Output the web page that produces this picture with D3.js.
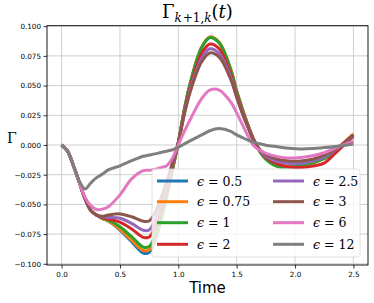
<!DOCTYPE html>
<html><head><meta charset="utf-8">
<script src="https://cdn.jsdelivr.net/npm/d3@7"></script>
<style>body{margin:0;background:#fff}svg{display:block}</style>
</head><body>
<script>
const T = [0,0.05,0.1,0.15,0.2,0.25,0.3,0.35,0.4,0.5,0.6,0.7,0.75,0.8,0.85,0.9,0.95,1.0,1.05,1.1,1.2,1.27,1.35,1.45,1.5,1.55,1.6,1.65,1.7,1.75,1.85,1.95,2.05,2.15,2.25,2.35,2.45,2.5];
const labels = ["0.5","0.75","1","2","2.5","3","6","12"];
const colors = ["#1f77b4","#ff7f0e","#2ca02c","#d62728","#9467bd","#8c564b","#e377c2","#7f7f7f"];
const s05  = [0,-0.005,-0.017,-0.031,-0.045,-0.055,-0.059,-0.062,-0.064,-0.0716,-0.0814,-0.0910,-0.0905,-0.081,-0.064,-0.044,-0.021,0.002,0.029,0.051,0.082,0.0905,0.086,0.063,0.045,0.030,0.016,0.004,-0.005,-0.011,-0.0165,-0.018,-0.017,-0.015,-0.0115,-0.0055,0.004,0.0085];
const s075 = [0,-0.005,-0.017,-0.031,-0.045,-0.055,-0.059,-0.062,-0.0638,-0.071,-0.080,-0.0888,-0.0882,-0.079,-0.062,-0.043,-0.0205,0.002,0.029,0.051,0.0825,0.091,0.0865,0.0635,0.0455,0.030,0.016,0.004,-0.005,-0.011,-0.0165,-0.018,-0.0175,-0.0155,-0.011,-0.004,0.005,0.009];
const s1   = [0,-0.005,-0.017,-0.031,-0.045,-0.055,-0.059,-0.0615,-0.063,-0.0688,-0.0772,-0.0860,-0.0855,-0.0765,-0.060,-0.0415,-0.020,0.002,0.029,0.051,0.082,0.0905,0.086,0.063,0.045,0.0295,0.0155,0.003,-0.006,-0.012,-0.0182,-0.0185,-0.017,-0.015,-0.011,-0.0058,0.003,0.007];
const s2   = [0,-0.005,-0.017,-0.031,-0.045,-0.055,-0.059,-0.061,-0.0623,-0.065,-0.0707,-0.0777,-0.0775,-0.069,-0.054,-0.037,-0.018,0.002,0.027,0.048,0.077,0.085,0.081,0.0595,0.0425,0.028,0.015,0.003,-0.005,-0.0105,-0.016,-0.0185,-0.019,-0.0178,-0.0152,-0.0065,0.003,0.007];
const s25  = [0,-0.005,-0.017,-0.031,-0.045,-0.055,-0.059,-0.0605,-0.061,-0.0617,-0.066,-0.0718,-0.0715,-0.0635,-0.050,-0.034,-0.016,0.002,0.026,0.046,0.073,0.081,0.077,0.057,0.041,0.027,0.0145,0.003,-0.0045,-0.0095,-0.014,-0.0155,-0.0155,-0.0135,-0.010,-0.004,0.004,0.008];
const s3   = [0,-0.005,-0.017,-0.031,-0.045,-0.055,-0.059,-0.060,-0.059,-0.058,-0.0604,-0.0642,-0.064,-0.057,-0.045,-0.031,-0.015,0.002,0.025,0.044,0.070,0.0775,0.074,0.055,0.040,0.026,0.014,0.003,-0.004,-0.008,-0.012,-0.0135,-0.0135,-0.012,-0.0085,-0.0035,0.0045,0.0088];
const s6   = [0,-0.005,-0.017,-0.031,-0.044,-0.051,-0.0543,-0.054,-0.052,-0.042,-0.0285,-0.0215,-0.0212,-0.0205,-0.019,-0.0175,-0.011,0.000,0.011,0.021,0.039,0.0462,0.0462,0.036,0.027,0.017,0.007,-0.001,-0.0045,-0.007,-0.0098,-0.011,-0.0105,-0.009,-0.0065,-0.0025,0.0015,0.003];
const s12  = [0,-0.005,-0.017,-0.030,-0.037,-0.032,-0.0275,-0.0245,-0.021,-0.0175,-0.0132,-0.0095,-0.0085,-0.0075,-0.0063,-0.0052,-0.004,-0.002,0.0008,0.0035,0.0085,0.012,0.0138,0.0115,0.0085,0.0062,0.004,0.0022,0.001,-0.0002,-0.0015,-0.0027,-0.0033,-0.003,-0.0022,-0.0012,0.0,0.0008];
const seriesVals = [s05,s075,s1,s2,s25,s3,s6,s12];
const xTicks = [0,0.5,1.0,1.5,2.0,2.5];
const yTicks = [-0.1,-0.075,-0.05,-0.025,0,0.025,0.05,0.075,0.1];

const W=374,H=303, L=47,R=368,TOP=25.7,BOT=265;
const svg=d3.select("body").append("svg").attr("width",W).attr("height",H);
const x=d3.scaleLinear().domain([-0.125,2.625]).range([L,R]);
const y=d3.scaleLinear().domain([-0.101,0.1004]).range([BOT,TOP]);

// grid
const g=svg.append("g");
g.selectAll(".vg").data(xTicks).enter().append("line")
 .attr("x1",d=>x(d)).attr("x2",d=>x(d)).attr("y1",TOP).attr("y2",BOT)
 .attr("stroke","#cfcfcf").attr("stroke-width",1);
g.selectAll(".hg").data(yTicks).enter().append("line")
 .attr("y1",d=>y(d)).attr("y2",d=>y(d)).attr("x1",L).attr("x2",R)
 .attr("stroke","#cfcfcf").attr("stroke-width",1);

// lines
const line=d3.line().x(d=>x(d[0])).y(d=>y(d[1])).curve(d3.curveCatmullRom.alpha(0.5));
seriesVals.forEach((vals,i)=>{
  svg.append("path").datum(T.map((t,j)=>[t,vals[j]]))
   .attr("d",line).attr("fill","none").attr("stroke",colors[i]).attr("stroke-width",3)
   .attr("stroke-linejoin","round").attr("stroke-linecap","butt");
});

// axes
const fmtY=d=>(d<0?"\u2212":"")+Math.abs(d).toFixed(3);
const ax=svg.append("g").attr("transform",`translate(0,${BOT})`)
 .call(d3.axisBottom(x).tickValues(xTicks).tickFormat(d=>d.toFixed(1)).tickSize(3.5).tickPadding(3));
const ay=svg.append("g").attr("transform",`translate(${L},0)`)
 .call(d3.axisLeft(y).tickValues(yTicks).tickFormat(fmtY).tickSize(3.5).tickPadding(2.5));
[ax,ay].forEach(a=>{a.select(".domain").remove();
 a.selectAll("text").attr("font-family","DejaVu Sans").attr("font-size",7.2).attr("fill","#000");
 a.selectAll("line").attr("stroke","#000").attr("stroke-width",0.8);});
svg.append("rect").attr("x",L).attr("y",TOP).attr("width",R-L).attr("height",BOT-TOP)
 .attr("fill","none").attr("stroke","#000").attr("stroke-width",0.9);

// title
const tt=svg.append("text").attr("x",162).attr("y",18).attr("font-family","DejaVu Serif").attr("fill","#000");
tt.append("tspan").attr("font-size",18).text("Γ");
tt.append("tspan").attr("font-size",12).attr("font-style","italic").attr("dy",4).text("k");
tt.append("tspan").attr("font-size",12).attr("dx",1).text("+1,");
tt.append("tspan").attr("font-size",12).attr("font-style","italic").text("k");
tt.append("tspan").attr("font-size",18).attr("dy",-4).text("(");
tt.append("tspan").attr("font-size",18).attr("font-style","italic").text("t");
tt.append("tspan").attr("font-size",18).text(")");

// axis labels
svg.append("text").attr("x",(L+R)/2).attr("y",292.5).attr("text-anchor","middle")
 .attr("font-family","DejaVu Sans").attr("font-size",15).text("Time");
svg.append("text").attr("x",7).attr("y",143).attr("font-family","DejaVu Serif").attr("font-size",14).text("Γ");

// legend
const lg=svg.append("g");
lg.append("rect").attr("x",152).attr("y",169).attr("width",208).attr("height",88).attr("rx",2.5)
 .attr("fill","#fff").attr("fill-opacity",0.8).attr("stroke","#d9d9d9").attr("stroke-width",0.8);
const rowY=[181,201.7,222.7,244.3];
labels.forEach((lab,i)=>{
  const col=Math.floor(i/4), row=i%4;
  const hx=col?273:157, tx=col?313:197, cy=rowY[row];
  lg.append("line").attr("x1",hx).attr("x2",hx+31).attr("y1",cy).attr("y2",cy)
   .attr("stroke",colors[i]).attr("stroke-width",3);
  const t=lg.append("text").attr("x",tx).attr("y",cy+4.5).attr("font-family","DejaVu Serif").attr("font-size",12.5);
  t.append("tspan").attr("font-style","italic").text("ϵ");
  t.append("tspan").text(" = "+lab);
});
</script>
</body></html>
